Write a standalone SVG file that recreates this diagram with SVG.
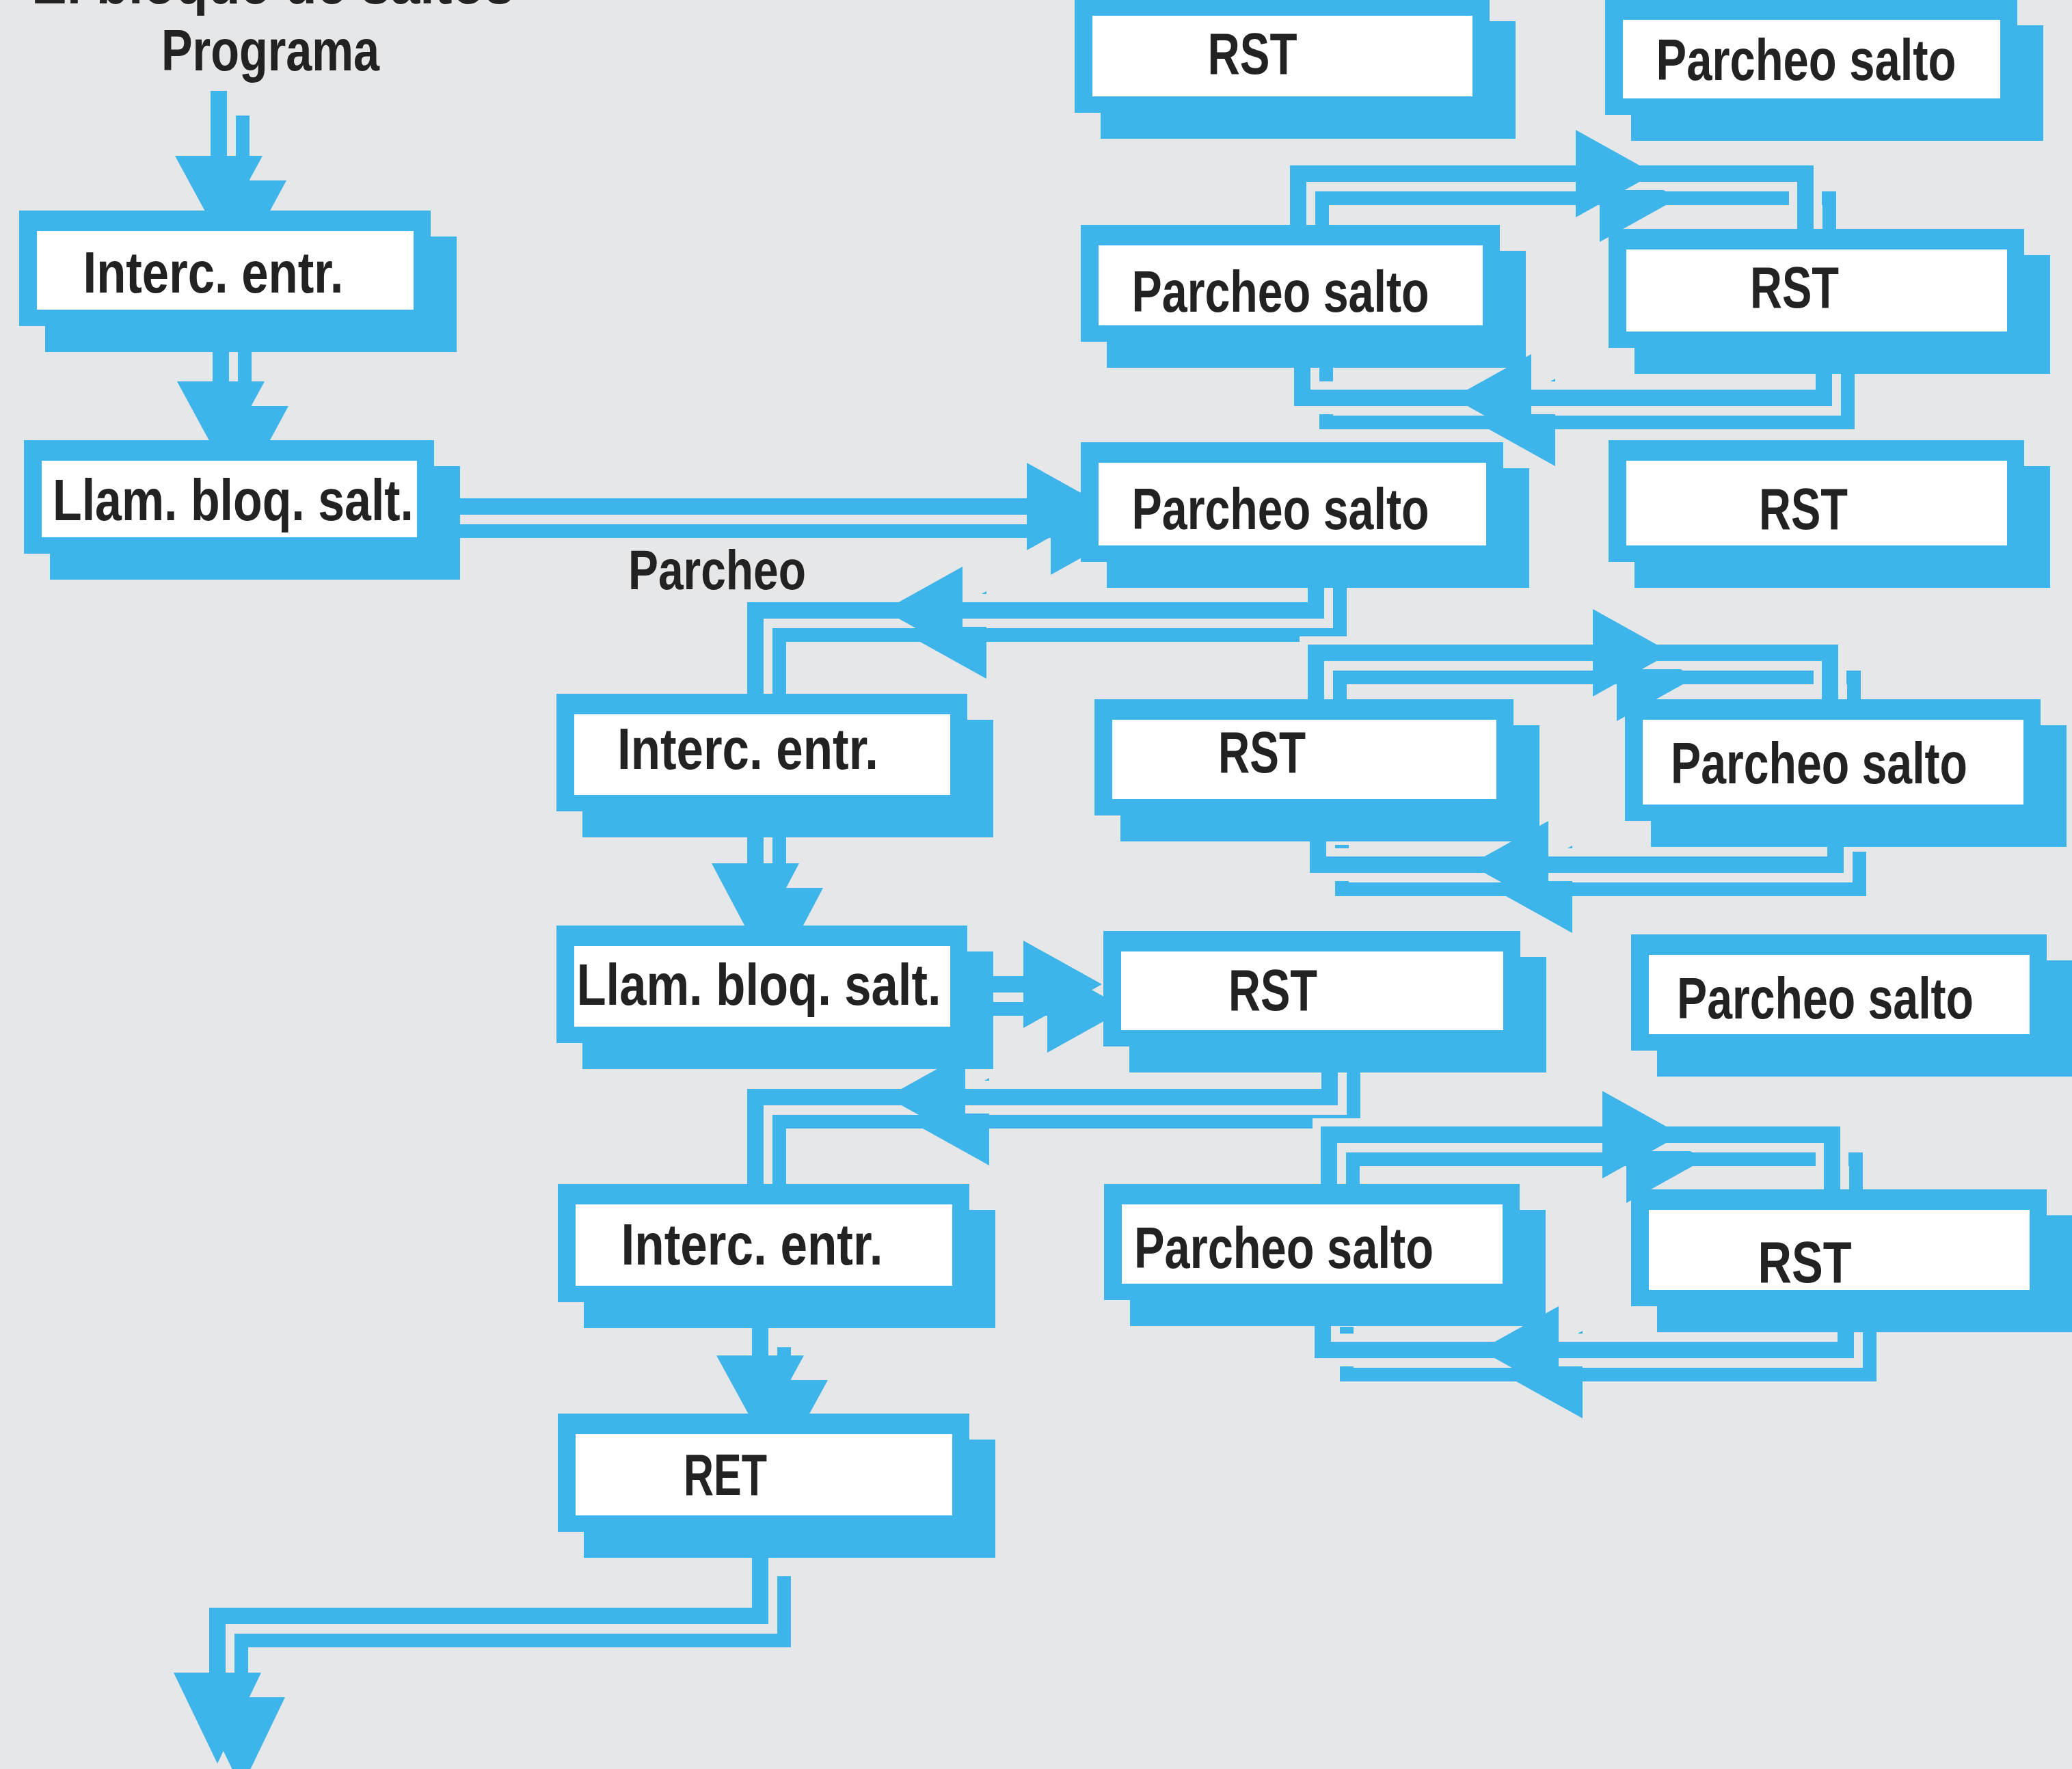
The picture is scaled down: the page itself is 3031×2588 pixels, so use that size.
<svg xmlns="http://www.w3.org/2000/svg" xmlns:xlink="http://www.w3.org/1999/xlink" width="3031" height="2588" viewBox="0 0 3031 2588">
<style>
.bg{fill:#e6e7e9}
.nsh,.nfr{fill:#3db5ea}
.nin{fill:#ffffff}
.t{font-family:"Liberation Sans",Arial,sans-serif;font-weight:bold;font-size:86px;fill:#222;text-anchor:middle}
.lab{font-family:"Liberation Sans",Arial,sans-serif;font-weight:bold;fill:#222}
.sh{stroke:#3db5ea;stroke-width:20;fill:#3db5ea}
.halo{stroke:#e6e7e9;stroke-width:48;fill:none}
.mn{stroke:#3db5ea;stroke-width:24;fill:#3db5ea}
</style>
<rect class="bg" x="0" y="0" width="3031" height="2588"/>

<text class="lab" x="46" y="5" font-size="86" textLength="706" lengthAdjust="spacingAndGlyphs">El bloque de saltos</text>
<text class="lab" x="236" y="103" font-size="86" textLength="319" lengthAdjust="spacingAndGlyphs">Programa</text>
<text class="lab" x="919" y="862" font-size="82" textLength="260" lengthAdjust="spacingAndGlyphs">Parcheo</text>

<g id="connectors">
  <use class="sh" href="#cm" xlink:href="#cm" transform="translate(35,36)"/>
  <use class="halo" href="#cm" xlink:href="#cm"/>
  <g class="mn">
    <g id="cm" stroke-linejoin="miter" stroke-linecap="butt">
      <g id="c1"><path fill="none" d="M320,133 V240"/><polygon stroke="none" points="256,228 384,228 320,346"/></g>
      <g id="c2"><path fill="none" d="M323,470 V562"/><polygon stroke="none" points="259,558 387,558 323,676"/></g>
      <g id="c3"><path fill="none" d="M630,741 H1506"/><polygon stroke="none" points="1502,677 1617,741 1502,805"/></g>
      <g id="c4"><path fill="none" d="M1925,810 V893 H1105 V1030"/><polygon stroke="none" points="1408,829 1293,893 1408,957"/></g>
      <g id="c5"><path fill="none" d="M1899,340 V254 H2641 V345"/><polygon stroke="none" points="2305,190 2420,254 2305,318"/></g>
      <g id="c6"><path fill="none" d="M2668,500 V582 H1905 V490"/><polygon stroke="none" points="2240,518 2125,582 2240,646"/></g>
      <g id="c7"><path fill="none" d="M1925,1030 V955 H2677 V1035"/><polygon stroke="none" points="2330,891 2445,955 2330,1019"/></g>
      <g id="c8"><path fill="none" d="M2685,1210 V1265 H1928 V1200"/><polygon stroke="none" points="2265,1201 2150,1265 2265,1329"/></g>
      <g id="c9"><path fill="none" d="M1105,1180 V1266"/><polygon stroke="none" points="1041,1263 1169,1263 1105,1384"/></g>
      <g id="c10"><path fill="none" d="M1410,1440 H1500"/><polygon stroke="none" points="1497,1376 1612,1440 1497,1504"/></g>
      <g id="c11"><path fill="none" d="M1945,1520 V1605 H1105 V1740"/><polygon stroke="none" points="1412,1541 1297,1605 1412,1669"/></g>
      <g id="c12"><path fill="none" d="M1944,1740 V1660 H2680 V1748"/><polygon stroke="none" points="2344,1596 2459,1660 2344,1724"/></g>
      <g id="c13"><path fill="none" d="M2700,1905 V1975 H1935 V1905"/><polygon stroke="none" points="2280,1911 2165,1975 2280,2039"/></g>
      <g id="c14"><path fill="none" d="M1112,1935 V1986"/><polygon stroke="none" points="1048,1983 1176,1983 1112,2100"/></g>
      <g id="c15"><path fill="none" d="M1112,2270 V2364 H318 V2450"/><polygon stroke="none" points="254,2447 382,2447 318,2580"/></g>
    </g>
  </g>
</g>

<g id="n1"><rect class="nsh" x="66" y="346" width="602" height="169"/><rect class="nfr" x="28" y="308" width="602" height="169"/><rect class="nin" x="54" y="338" width="551" height="115"/><text class="t" x="312" y="428" textLength="381" lengthAdjust="spacingAndGlyphs">Interc. entr.</text></g>
<g id="n2"><rect class="nsh" x="73" y="682" width="600" height="166"/><rect class="nfr" x="35" y="644" width="600" height="166"/><rect class="nin" x="61" y="674" width="549" height="112"/><text class="t" x="341" y="761" textLength="528" lengthAdjust="spacingAndGlyphs">Llam. bloq. salt.</text></g>

<g id="n3"><rect class="nsh" x="852" y="1053" width="601" height="172"/><rect class="nfr" x="814" y="1015" width="601" height="172"/><rect class="nin" x="840" y="1045" width="550" height="118"/><text class="t" x="1094" y="1125" textLength="382" lengthAdjust="spacingAndGlyphs">Interc. entr.</text></g>
<g id="n4"><rect class="nsh" x="852" y="1392" width="601" height="172"/><rect class="nfr" x="814" y="1354" width="601" height="172"/><rect class="nin" x="840" y="1384" width="550" height="118"/><text class="t" x="1110" y="1470" textLength="533" lengthAdjust="spacingAndGlyphs">Llam. bloq. salt.</text></g>
<g id="n5"><rect class="nsh" x="854" y="1770" width="602" height="173"/><rect class="nfr" x="816" y="1732" width="602" height="173"/><rect class="nin" x="842" y="1762" width="551" height="119"/><text class="t" x="1100" y="1850" textLength="383" lengthAdjust="spacingAndGlyphs">Interc. entr.</text></g>
<g id="n6"><rect class="nsh" x="854" y="2106" width="602" height="173"/><rect class="nfr" x="816" y="2068" width="602" height="173"/><rect class="nin" x="842" y="2098" width="551" height="119"/><text class="t" x="1061" y="2187" textLength="122" lengthAdjust="spacingAndGlyphs">RET</text></g>

<g id="r1"><rect class="nsh" x="1610" y="31" width="607" height="172"/><rect class="nfr" x="1572" y="-7" width="607" height="172"/><rect class="nin" x="1598" y="23" width="556" height="118"/><text class="t" x="1832" y="108" textLength="131" lengthAdjust="spacingAndGlyphs">RST</text></g>
<g id="r2"><rect class="nsh" x="1619" y="367" width="613" height="171"/><rect class="nfr" x="1581" y="329" width="613" height="171"/><rect class="nin" x="1607" y="359" width="562" height="117"/><text class="t" x="1873" y="456" textLength="435" lengthAdjust="spacingAndGlyphs">Parcheo salto</text></g>
<g id="r3"><rect class="nsh" x="1619" y="685" width="618" height="175"/><rect class="nfr" x="1581" y="647" width="618" height="175"/><rect class="nin" x="1607" y="677" width="567" height="121"/><text class="t" x="1873" y="774" textLength="435" lengthAdjust="spacingAndGlyphs">Parcheo salto</text></g>
<g id="r4"><rect class="nsh" x="1639" y="1061" width="613" height="170"/><rect class="nfr" x="1601" y="1023" width="613" height="170"/><rect class="nin" x="1627" y="1053" width="562" height="116"/><text class="t" x="1846" y="1130" textLength="128" lengthAdjust="spacingAndGlyphs">RST</text></g>
<g id="r5"><rect class="nsh" x="1652" y="1400" width="610" height="169"/><rect class="nfr" x="1614" y="1362" width="610" height="169"/><rect class="nin" x="1640" y="1392" width="559" height="115"/><text class="t" x="1862" y="1478" textLength="130" lengthAdjust="spacingAndGlyphs">RST</text></g>
<g id="r6"><rect class="nsh" x="1653" y="1770" width="608" height="170"/><rect class="nfr" x="1615" y="1732" width="608" height="170"/><rect class="nin" x="1641" y="1762" width="557" height="116"/><text class="t" x="1878" y="1855" textLength="438" lengthAdjust="spacingAndGlyphs">Parcheo salto</text></g>

<g id="f1"><rect class="nsh" x="2386" y="37" width="603" height="169"/><rect class="nfr" x="2348" y="-1" width="603" height="169"/><rect class="nin" x="2374" y="29" width="552" height="115"/><text class="t" x="2642" y="117" textLength="439" lengthAdjust="spacingAndGlyphs">Parcheo salto</text></g>
<g id="f2"><rect class="nsh" x="2391" y="373" width="608" height="174"/><rect class="nfr" x="2353" y="335" width="608" height="174"/><rect class="nin" x="2379" y="365" width="557" height="120"/><text class="t" x="2625" y="450" textLength="130" lengthAdjust="spacingAndGlyphs">RST</text></g>
<g id="f3"><rect class="nsh" x="2391" y="682" width="608" height="178"/><rect class="nfr" x="2353" y="644" width="608" height="178"/><rect class="nin" x="2379" y="674" width="557" height="124"/><text class="t" x="2638" y="774" textLength="130" lengthAdjust="spacingAndGlyphs">RST</text></g>
<g id="f4"><rect class="nsh" x="2415" y="1061" width="608" height="178"/><rect class="nfr" x="2377" y="1023" width="608" height="178"/><rect class="nin" x="2403" y="1053" width="557" height="124"/><text class="t" x="2661" y="1146" textLength="434" lengthAdjust="spacingAndGlyphs">Parcheo salto</text></g>
<g id="f5"><rect class="nsh" x="2424" y="1405" width="608" height="170"/><rect class="nfr" x="2386" y="1367" width="608" height="170"/><rect class="nin" x="2412" y="1397" width="557" height="116"/><text class="t" x="2670" y="1490" textLength="434" lengthAdjust="spacingAndGlyphs">Parcheo salto</text></g>
<g id="f6"><rect class="nsh" x="2424" y="1778" width="608" height="171"/><rect class="nfr" x="2386" y="1740" width="608" height="171"/><rect class="nin" x="2412" y="1770" width="557" height="117"/><text class="t" x="2640" y="1876" textLength="137" lengthAdjust="spacingAndGlyphs">RST</text></g>
</svg>
